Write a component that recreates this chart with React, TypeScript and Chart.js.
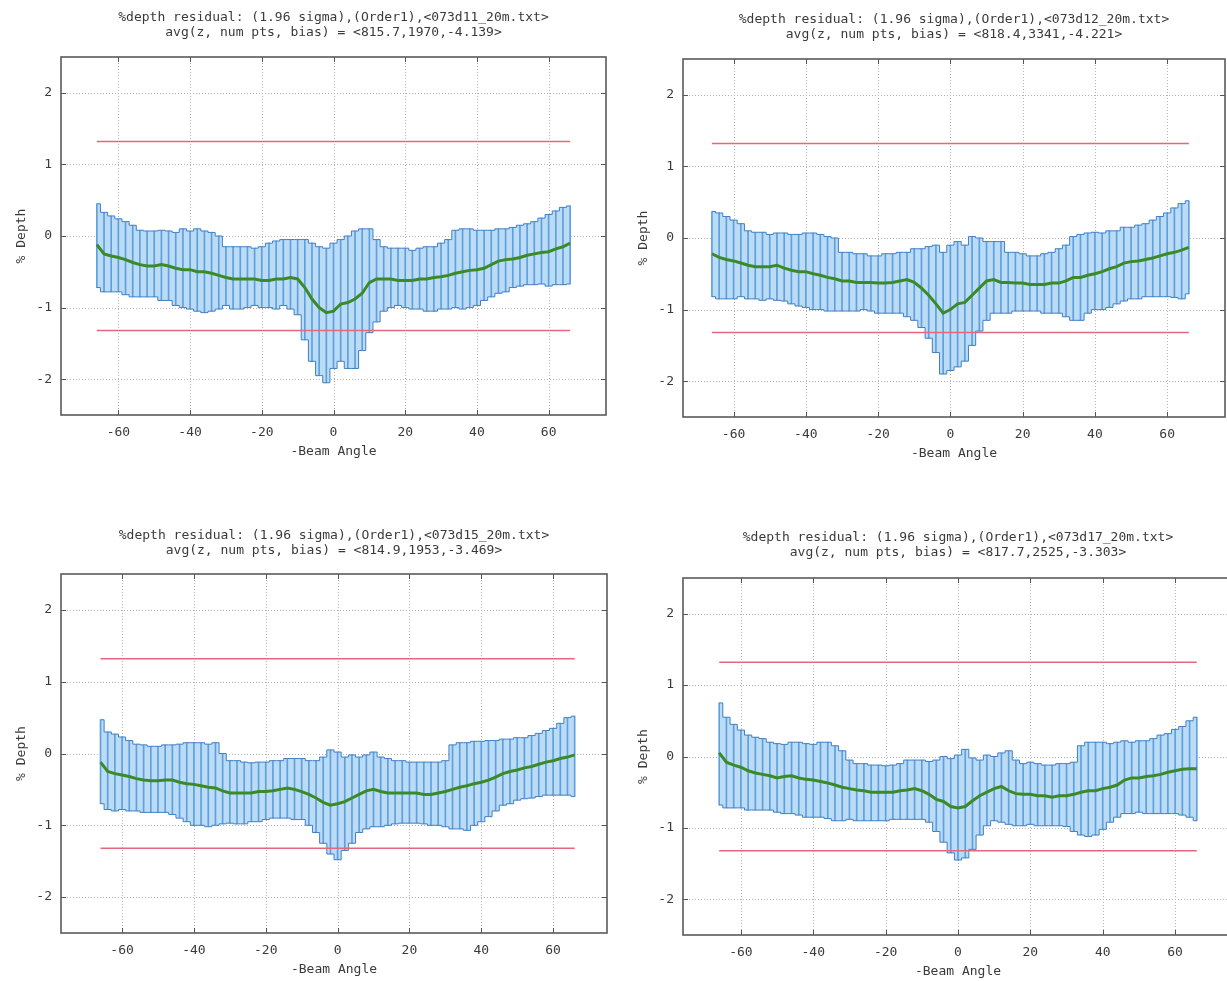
import React, { useEffect, useRef } from "react";
import { Chart, registerables } from "chart.js";

Chart.register(...registerables);

// ---------- data ----------
const ANGLES = [
  -66, -64, -62, -60, -58, -56, -54, -52, -50, -48, -46,
  -44, -42, -40, -38, -36, -34, -32, -30, -28, -26, -24,
  -22, -20, -18, -16, -14, -12, -10, -8, -6, -4, -2,
  0, 2, 4, 6, 8, 10, 12, 14, 16, 18, 20,
  22, 24, 26, 28, 30, 32, 34, 36, 38, 40, 42,
  44, 46, 48, 50, 52, 54, 56, 58, 60, 62, 64,
  66,
];
const X_TICKS = [-60, -40, -20, 0, 20, 40, 60];
const Y_TICKS = [-2, -1, 0, 1, 2];
const LIMIT_UPPER = 1.32;
const LIMIT_LOWER = -1.32;
const X_LABEL = "-Beam Angle";
const Y_LABEL = "% Depth";

// 073d11
const D11_TITLE = ["%depth residual: (1.96 sigma),(Order1),<073d11_20m.txt>", "avg(z, num pts, bias) = <815.7,1970,-4.139>"];
const D11_UPPER = [
  0.45, 0.33, 0.28, 0.24, 0.2, 0.15, 0.08, 0.07, 0.07, 0.08, 0.07,
  0.05, 0.1, 0.07, 0.1, 0.07, 0.05, 0.0, -0.15, -0.15, -0.15, -0.15,
  -0.17, -0.15, -0.1, -0.07, -0.05, -0.05, -0.05, -0.05, -0.1, -0.15, -0.17,
  -0.1, -0.05, 0.0, 0.07, 0.1, 0.1, -0.05, -0.15, -0.17, -0.17, -0.17,
  -0.2, -0.17, -0.15, -0.15, -0.1, -0.05, 0.08, 0.1, 0.1, 0.08, 0.08,
  0.08, 0.1, 0.1, 0.12, 0.15, 0.17, 0.2, 0.25, 0.3, 0.35, 0.4,
  0.42,
];
const D11_LOWER = [
  -0.72, -0.78, -0.78, -0.78, -0.82, -0.85, -0.85, -0.85, -0.85, -0.9, -0.9,
  -0.97, -1.0, -1.02, -1.05, -1.07, -1.05, -1.02, -0.97, -1.02, -1.02, -1.0,
  -0.97, -1.0, -1.0, -1.02, -0.97, -1.02, -1.1, -1.45, -1.75, -1.95, -2.05,
  -1.85, -1.75, -1.85, -1.85, -1.6, -1.35, -1.2, -1.05, -1.0, -0.97, -1.0,
  -1.02, -1.02, -1.05, -1.05, -1.02, -1.02, -1.0, -1.02, -1.0, -0.97, -0.9,
  -0.85, -0.8, -0.78, -0.72, -0.7, -0.68, -0.68, -0.67, -0.7, -0.68, -0.68,
  -0.67,
];
const D11_MEAN = [
  -0.12, -0.25, -0.28, -0.3, -0.33, -0.37, -0.4, -0.42, -0.42, -0.4, -0.42,
  -0.45, -0.47, -0.47, -0.5, -0.5, -0.52, -0.55, -0.58, -0.6, -0.6, -0.6,
  -0.6, -0.62, -0.62, -0.6, -0.6, -0.58, -0.6, -0.72, -0.88, -1.0, -1.07,
  -1.05, -0.95, -0.93, -0.88, -0.8, -0.65, -0.6, -0.6, -0.6, -0.62, -0.62,
  -0.62, -0.6, -0.6, -0.58, -0.57, -0.55, -0.52, -0.5, -0.48, -0.47, -0.45,
  -0.4, -0.35, -0.33, -0.32, -0.3, -0.27, -0.25, -0.23, -0.22, -0.18, -0.15,
  -0.1,
];

// 073d12
const D12_TITLE = ["%depth residual: (1.96 sigma),(Order1),<073d12_20m.txt>", "avg(z, num pts, bias) = <818.4,3341,-4.221>"];
const D12_UPPER = [
  0.37, 0.35, 0.3, 0.25, 0.2, 0.1, 0.08, 0.08, 0.05, 0.07, 0.07,
  0.05, 0.05, 0.07, 0.07, 0.05, 0.02, 0.0, -0.2, -0.2, -0.22, -0.22,
  -0.25, -0.25, -0.22, -0.22, -0.2, -0.2, -0.15, -0.15, -0.12, -0.1, -0.2,
  -0.1, -0.05, -0.1, 0.02, 0.0, -0.05, -0.05, -0.05, -0.2, -0.2, -0.22,
  -0.25, -0.25, -0.22, -0.2, -0.15, -0.1, 0.02, 0.05, 0.07, 0.08, 0.07,
  0.1, 0.1, 0.15, 0.15, 0.18, 0.2, 0.25, 0.3, 0.35, 0.42, 0.48,
  0.52,
];
const D12_LOWER = [
  -0.82, -0.85, -0.85, -0.85, -0.82, -0.85, -0.85, -0.87, -0.85, -0.87, -0.88,
  -0.92, -0.95, -0.97, -1.0, -1.0, -1.02, -1.02, -1.02, -1.02, -1.02, -1.0,
  -1.02, -1.05, -1.05, -1.05, -1.05, -1.1, -1.15, -1.25, -1.4, -1.6, -1.9,
  -1.85, -1.8, -1.72, -1.5, -1.3, -1.15, -1.05, -1.05, -1.05, -1.02, -1.02,
  -1.02, -1.02, -1.05, -1.05, -1.05, -1.1, -1.15, -1.15, -1.05, -1.0, -1.0,
  -0.97, -0.92, -0.88, -0.85, -0.85, -0.82, -0.82, -0.82, -0.82, -0.83, -0.85,
  -0.78,
];
const D12_MEAN = [
  -0.22, -0.27, -0.3, -0.32, -0.35, -0.38, -0.4, -0.4, -0.4, -0.38, -0.42,
  -0.45, -0.47, -0.47, -0.5, -0.52, -0.55, -0.57, -0.6, -0.6, -0.62, -0.62,
  -0.62, -0.63, -0.63, -0.62, -0.6, -0.58, -0.62, -0.7, -0.8, -0.92, -1.05,
  -1.0, -0.92, -0.9, -0.8, -0.7, -0.6, -0.58, -0.62, -0.62, -0.63, -0.63,
  -0.65, -0.65, -0.65, -0.63, -0.63, -0.6, -0.55, -0.55, -0.52, -0.5, -0.47,
  -0.43, -0.4, -0.35, -0.33, -0.32, -0.3, -0.28, -0.25, -0.22, -0.2, -0.17,
  -0.13,
];

// 073d15
const D15_TITLE = ["%depth residual: (1.96 sigma),(Order1),<073d15_20m.txt>", "avg(z, num pts, bias) = <814.9,1953,-3.469>"];
const D15_UPPER = [
  0.47, 0.3, 0.27, 0.23, 0.18, 0.13, 0.12, 0.1, 0.1, 0.12, 0.12,
  0.13, 0.15, 0.15, 0.15, 0.13, 0.15, 0.0, -0.1, -0.1, -0.12, -0.13,
  -0.12, -0.12, -0.1, -0.1, -0.07, -0.07, -0.07, -0.1, -0.1, -0.05, 0.05,
  0.02, -0.05, -0.02, -0.05, -0.02, 0.02, -0.05, -0.07, -0.1, -0.1, -0.12,
  -0.12, -0.12, -0.12, -0.12, -0.1, 0.12, 0.15, 0.15, 0.17, 0.17, 0.18,
  0.18, 0.2, 0.2, 0.22, 0.22, 0.25, 0.28, 0.32, 0.35, 0.42, 0.5,
  0.52,
];
const D15_LOWER = [
  -0.7, -0.78, -0.8, -0.78, -0.8, -0.8, -0.82, -0.82, -0.82, -0.82, -0.85,
  -0.9, -0.95, -1.0, -1.0, -1.02, -1.0, -0.98, -0.97, -0.98, -0.98, -0.95,
  -0.95, -0.92, -0.9, -0.9, -0.9, -0.92, -0.92, -1.0, -1.1, -1.25, -1.4,
  -1.48, -1.35, -1.25, -1.1, -1.05, -1.02, -1.02, -1.0, -0.98, -0.97, -0.97,
  -0.97, -0.98, -1.0, -1.0, -1.02, -1.05, -1.05, -1.07, -1.0, -0.95, -0.88,
  -0.8, -0.72, -0.7, -0.65, -0.63, -0.62, -0.6, -0.58, -0.58, -0.58, -0.58,
  -0.6,
];
const D15_MEAN = [
  -0.12, -0.25, -0.28, -0.3, -0.32, -0.35, -0.37, -0.38, -0.38, -0.37, -0.37,
  -0.4, -0.42, -0.43, -0.45, -0.47, -0.48, -0.52, -0.55, -0.55, -0.55, -0.55,
  -0.53, -0.53, -0.52, -0.5, -0.48, -0.5, -0.53, -0.57, -0.62, -0.68, -0.72,
  -0.7, -0.67, -0.62, -0.57, -0.52, -0.5, -0.53, -0.55, -0.55, -0.55, -0.55,
  -0.55, -0.57, -0.57, -0.55, -0.53, -0.5, -0.47, -0.45, -0.42, -0.4, -0.37,
  -0.33, -0.28, -0.25, -0.23, -0.2, -0.18, -0.15, -0.12, -0.1, -0.07, -0.05,
  -0.02,
];

// 073d17
const D17_TITLE = ["%depth residual: (1.96 sigma),(Order1),<073d17_20m.txt>", "avg(z, num pts, bias) = <817.7,2525,-3.303>"];
const D17_UPPER = [
  0.75, 0.55, 0.45, 0.37, 0.3, 0.27, 0.25, 0.2, 0.18, 0.17, 0.2,
  0.2, 0.18, 0.17, 0.2, 0.2, 0.15, 0.08, -0.05, -0.1, -0.1, -0.12,
  -0.12, -0.13, -0.12, -0.1, -0.05, -0.05, -0.05, -0.07, -0.05, 0.0, -0.03,
  0.02, 0.1, -0.02, -0.05, 0.02, 0.0, 0.05, 0.08, -0.05, -0.1, -0.08,
  -0.1, -0.12, -0.12, -0.1, -0.1, -0.08, 0.15, 0.2, 0.2, 0.2, 0.18,
  0.2, 0.22, 0.2, 0.22, 0.22, 0.25, 0.3, 0.32, 0.38, 0.42, 0.5,
  0.55,
];
const D17_LOWER = [
  -0.68, -0.72, -0.72, -0.72, -0.75, -0.75, -0.75, -0.75, -0.78, -0.8, -0.8,
  -0.82, -0.85, -0.85, -0.85, -0.87, -0.9, -0.9, -0.88, -0.9, -0.9, -0.9,
  -0.9, -0.9, -0.88, -0.88, -0.88, -0.88, -0.88, -0.92, -1.05, -1.2, -1.35,
  -1.45, -1.42, -1.3, -1.1, -0.97, -0.9, -0.92, -0.95, -0.97, -0.97, -0.95,
  -0.97, -0.97, -0.97, -0.97, -0.98, -1.05, -1.1, -1.12, -1.1, -1.02, -0.92,
  -0.85, -0.8, -0.8, -0.78, -0.8, -0.8, -0.8, -0.8, -0.8, -0.82, -0.85,
  -0.9,
];
const D17_MEAN = [
  0.05, -0.08, -0.12, -0.15, -0.2, -0.23, -0.25, -0.27, -0.3, -0.28, -0.27,
  -0.3, -0.32, -0.33, -0.35, -0.37, -0.4, -0.43, -0.45, -0.47, -0.48, -0.5,
  -0.5, -0.5, -0.5, -0.48, -0.47, -0.45, -0.48, -0.53, -0.6, -0.63, -0.7,
  -0.72, -0.7, -0.62, -0.55, -0.5, -0.45, -0.42, -0.48, -0.52, -0.53, -0.53,
  -0.55, -0.55, -0.57, -0.55, -0.55, -0.53, -0.5, -0.48, -0.48, -0.45, -0.43,
  -0.4, -0.33, -0.3, -0.3, -0.28, -0.27, -0.25, -0.22, -0.2, -0.18, -0.17,
  -0.17,
];

// ---------- layout / style ----------
type Box = { left: number; top: number; w: number; h: number };
type Plot = { l: number; t: number; r: number; b: number };
type PanelDef = {
  title: string[];
  mean: number[];
  upper: number[];
  lower: number[];
  xMin: number;
  xMax: number;
  canvas: Box;
  plot: Plot;
  titleY: number;
};

const PANELS: PanelDef[] = [
  { title: D11_TITLE, mean: D11_MEAN, upper: D11_UPPER, lower: D11_LOWER, xMin: -76, xMax: 76,
    canvas: { left: 0, top: 0, w: 614, h: 470 }, plot: { l: 61, t: 57, r: 606, b: 415 }, titleY: 18 },
  { title: D12_TITLE, mean: D12_MEAN, upper: D12_UPPER, lower: D12_LOWER, xMin: -74, xMax: 76,
    canvas: { left: 614, top: 0, w: 613, h: 470 }, plot: { l: 683, t: 59, r: 1225, b: 417 }, titleY: 20 },
  { title: D15_TITLE, mean: D15_MEAN, upper: D15_UPPER, lower: D15_LOWER, xMin: -77, xMax: 75,
    canvas: { left: 0, top: 490, w: 614, h: 491 }, plot: { l: 61, t: 574, r: 607, b: 933 }, titleY: 536 },
  { title: D17_TITLE, mean: D17_MEAN, upper: D17_UPPER, lower: D17_LOWER, xMin: -76, xMax: 76,
    canvas: { left: 614, top: 490, w: 630, h: 491 }, plot: { l: 683, t: 578, r: 1233, b: 935 }, titleY: 538 },
];

const FONT_FAMILY = "'DejaVu Sans Mono', 'Liberation Mono', monospace";
const FONT_SIZE = 13;
const LINE_H = 15;
const TEXT_COLOR = "#3a3a3a";

const gnuFrame = {
  id: "gnuFrame",
  beforeDraw(chart: any) {
    const { ctx, chartArea: a, scales } = chart;
    ctx.save();
    ctx.strokeStyle = "#b4b4b4";
    ctx.lineWidth = 1;
    ctx.setLineDash([1, 2]);
    for (const v of X_TICKS) {
      const x = Math.round(scales.x.getPixelForValue(v)) + 0.5;
      ctx.beginPath();
      ctx.moveTo(x, a.top);
      ctx.lineTo(x, a.bottom);
      ctx.stroke();
    }
    for (const v of Y_TICKS) {
      const y = Math.round(scales.y.getPixelForValue(v)) + 0.5;
      ctx.beginPath();
      ctx.moveTo(a.left, y);
      ctx.lineTo(a.right, y);
      ctx.stroke();
    }
    ctx.restore();
  },
  afterDatasetsDraw(chart: any) {
    const { ctx, chartArea: a, scales } = chart;
    ctx.save();
    ctx.strokeStyle = "#555";
    ctx.lineWidth = 1;
    const tl = 5;
    for (const v of X_TICKS) {
      const x = Math.round(scales.x.getPixelForValue(v)) + 0.5;
      ctx.beginPath();
      ctx.moveTo(x, a.bottom);
      ctx.lineTo(x, a.bottom - tl);
      ctx.moveTo(x, a.top);
      ctx.lineTo(x, a.top + tl);
      ctx.stroke();
    }
    for (const v of Y_TICKS) {
      const y = Math.round(scales.y.getPixelForValue(v)) + 0.5;
      ctx.beginPath();
      ctx.moveTo(a.left, y);
      ctx.lineTo(a.left + tl, y);
      ctx.moveTo(a.right, y);
      ctx.lineTo(a.right - tl, y);
      ctx.stroke();
    }
    ctx.strokeStyle = "#5a5a5a";
    ctx.lineWidth = 1.6;
    ctx.strokeRect(a.left, a.top, a.right - a.left, a.bottom - a.top);
    ctx.restore();
  },
};

function buildConfig(p: PanelDef): any {
  const c = p.canvas;
  const yAxisW = p.plot.l - c.left;
  const xAxisH = c.top + c.h - p.plot.b;
  const titleH = p.plot.t - c.top;
  const padRight = c.left + c.w - p.plot.r;
  const titlePadTop = p.titleY - c.top - LINE_H / 2;
  const titlePadBottom = titleH - titlePadTop - 2 * LINE_H;
  const xTitleCenter = p.plot.b + 37;
  const xTitlePadBottom = c.top + c.h - xTitleCenter - LINE_H / 2;
  const yTitlePadTop = p.plot.l - 39 - c.left - LINE_H / 2;
  const font = { family: FONT_FAMILY, size: FONT_SIZE, lineHeight: LINE_H / FONT_SIZE };

  const pts = (vals: number[]) => ANGLES.map((a, i) => ({ x: a, y: vals[i] }));
  const first = ANGLES[0];
  const last = ANGLES[ANGLES.length - 1];

  return {
    type: "line",
    data: {
      datasets: [
        {
          type: "line",
          data: pts(p.upper),
          borderColor: "#3f7fc4",
          borderWidth: 1,
          backgroundColor: "#bcdcf6",
          fill: "+1",
          stepped: "middle",
          pointRadius: 0,
          order: 2,
        },
        {
          type: "line",
          data: pts(p.lower),
          borderColor: "#3f7fc4",
          borderWidth: 1,
          fill: false,
          stepped: "middle",
          pointRadius: 0,
          order: 2,
        },
        {
          type: "bar",
          data: ANGLES.map((a, i) => ({ x: a, y: [p.lower[i], p.upper[i]] })),
          backgroundColor: "#5d9fe0",
          borderWidth: 0,
          barThickness: 1,
          order: 3,
        },
        {
          type: "line",
          data: pts(p.mean),
          borderColor: "#3a8a26",
          borderWidth: 3,
          pointRadius: 0,
          fill: false,
          tension: 0,
          order: 0,
        },
        {
          type: "line",
          data: [{ x: first, y: LIMIT_UPPER }, { x: last, y: LIMIT_UPPER }],
          borderColor: "#e3687b",
          borderWidth: 1.5,
          pointRadius: 0,
          fill: false,
          order: 1,
        },
        {
          type: "line",
          data: [{ x: first, y: LIMIT_LOWER }, { x: last, y: LIMIT_LOWER }],
          borderColor: "#e3687b",
          borderWidth: 1.5,
          pointRadius: 0,
          fill: false,
          order: 1,
        },
      ],
    },
    options: {
      animation: false,
      responsive: false,
      maintainAspectRatio: false,
      events: [],
      layout: { padding: { left: 0, right: padRight, top: 0, bottom: 0 } },
      plugins: {
        legend: { display: false },
        tooltip: { enabled: false },
        filler: { drawTime: "beforeDatasetsDraw" },
        title: {
          display: true,
          text: p.title,
          fullSize: false,
          color: TEXT_COLOR,
          font: { ...font, weight: "normal" },
          padding: { top: titlePadTop, bottom: titlePadBottom },
        },
      },
      scales: {
        x: {
          type: "linear",
          min: p.xMin,
          max: p.xMax,
          offset: false,
          grid: { display: false, drawTicks: false },
          border: { display: false },
          afterBuildTicks: (s: any) => {
            s.ticks = X_TICKS.map((v) => ({ value: v }));
          },
          afterFit: (s: any) => {
            s.height = xAxisH;
          },
          ticks: {
            color: TEXT_COLOR,
            font,
            padding: 10,
            maxRotation: 0,
            autoSkip: false,
            callback: (v: any) => String(v),
          },
          title: {
            display: true,
            text: X_LABEL,
            color: TEXT_COLOR,
            font,
            padding: { top: 0, bottom: xTitlePadBottom },
          },
        },
        y: {
          type: "linear",
          min: -2.5,
          max: 2.5,
          grid: { display: false, drawTicks: false },
          border: { display: false },
          afterBuildTicks: (s: any) => {
            s.ticks = Y_TICKS.map((v) => ({ value: v }));
          },
          afterFit: (s: any) => {
            s.width = yAxisW;
          },
          ticks: {
            color: TEXT_COLOR,
            font,
            padding: 9,
            autoSkip: false,
            callback: (v: any) => String(v),
          },
          title: {
            display: true,
            text: Y_LABEL,
            color: TEXT_COLOR,
            font,
            padding: { top: yTitlePadTop, bottom: 0 },
          },
        },
      },
    },
    plugins: [gnuFrame],
  };
}

function PanelChart({ p }: { p: PanelDef }) {
  const ref = useRef<HTMLCanvasElement>(null);
  useEffect(() => {
    if (!ref.current) return;
    const chart = new Chart(ref.current, buildConfig(p));
    return () => chart.destroy();
  }, [p]);
  return (
    <canvas
      ref={ref}
      width={p.canvas.w}
      height={p.canvas.h}
      style={{
        position: "absolute",
        left: p.canvas.left,
        top: p.canvas.top,
        width: p.canvas.w,
        height: p.canvas.h,
      }}
    />
  );
}

export default function App() {
  return (
    <div
      style={{
        position: "absolute",
        left: 0,
        top: 0,
        width: 1227,
        height: 981,
        overflow: "hidden",
        background: "#ffffff",
      }}
    >
      {PANELS.map((p, i) => (
        <PanelChart key={i} p={p} />
      ))}
    </div>
  );
}
